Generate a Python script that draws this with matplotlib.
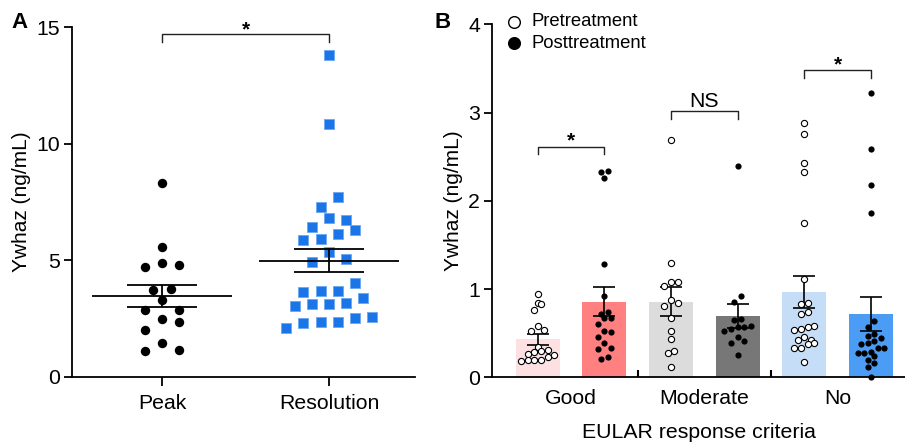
import matplotlib
matplotlib.use("Agg")
import matplotlib.pyplot as plt
import numpy as np
from matplotlib.lines import Line2D

plt.rcParams['font.family'] = ['Liberation Sans', 'DejaVu Sans']

# panel A values (ng/mL)
peak = [8.33, 5.58, 4.90, 4.79, 4.73, 3.76, 3.73, 3.30, 2.87, 2.87,
        2.50, 2.36, 2.01, 1.44, 1.16, 1.10]
resolution = [13.79, 10.84, 7.73, 7.30, 6.80, 6.73, 6.44, 6.30, 6.13, 5.93,
              5.87, 5.37, 5.04, 4.94, 4.04, 3.69, 3.69, 3.66, 3.40, 3.16,
              3.13, 3.12, 3.06, 2.58, 2.51, 2.36, 2.34, 2.33, 2.11]
a_labels = ['Peak', 'Resolution']
a_mean = [3.47, 4.99]
a_sem = [0.47, 0.50]

# panel B values (ng/mL)
good_pre = [0.95, 0.84, 0.83, 0.76, 0.585, 0.535, 0.53, 0.34, 0.31, 0.30,
            0.29, 0.27, 0.25, 0.23, 0.20, 0.20, 0.20, 0.19]
good_post = [2.34, 2.33, 2.255, 1.29, 0.92, 0.74, 0.724, 0.67, 0.67, 0.604,
             0.528, 0.517, 0.46, 0.385, 0.33, 0.317, 0.234, 0.204]
moderate_pre = [2.69, 1.30, 1.084, 1.084, 1.035, 0.876, 0.846, 0.808, 0.676,
                0.529, 0.434, 0.302, 0.272, 0.121]
moderate_post = [2.40, 0.921, 0.853, 0.657, 0.649, 0.58, 0.573, 0.567, 0.544,
                 0.528, 0.453, 0.415, 0.385, 0.249]
no_pre = [2.878, 2.757, 2.425, 2.323, 1.753, 1.11, 0.838, 0.83, 0.737, 0.714,
          0.581, 0.573, 0.544, 0.536, 0.46, 0.423, 0.423, 0.392, 0.377, 0.329,
          0.329, 0.177]
no_post = [3.218, 2.584, 2.176, 1.858, 0.641, 0.573, 0.49, 0.468, 0.442, 0.411,
           0.392, 0.374, 0.329, 0.329, 0.29, 0.279, 0.272, 0.241, 0.196, 0.159,
           0.113, 0.0]
b_groups = ['Good', 'Moderate', 'No']
b_mean = [0.43, 0.857, 0.857, 0.695, 0.967, 0.717]
b_sem = [0.058, 0.166, 0.166, 0.139, 0.179, 0.19]
b_colors = ['#fde0e2', '#ff8080', '#dcdcdc', '#777777', '#c6ddf7', '#4b9cf5']


def swarm(values, dx, h):
    # GraphPad-like rows: values within h of the row start share a row,
    # spread symmetrically across the column
    values = np.asarray(values, dtype=float)
    order = list(np.argsort(values))
    offs = np.zeros(len(values))
    while order:
        start = values[order[0]]
        row = [i for i in order if values[i] < start + h]
        order = order[len(row):]
        n = len(row)
        slots = []
        lo, hi = 0, n - 1
        while lo <= hi:
            slots.append(lo)
            if hi != lo:
                slots.append(hi)
            lo += 1
            hi -= 1
        # mix a little so rows do not look like a smile
        slots = slots[::2] + slots[1::2][::-1] if n > 3 else slots
        for i, k in zip(row, slots):
            offs[i] = (k - (n - 1) / 2) * dx
    return offs


def bracket(ax, x0, x1, y, drop, text, offset, fs):
    ax.plot([x0, x0, x1, x1], [y - drop, y, y, y - drop], color='#222222',
            lw=1.0, clip_on=False)
    ax.annotate(text, xy=((x0 + x1) / 2, y), xytext=(0, offset),
                textcoords='offset points', ha='center', va='baseline',
                fontsize=fs, fontweight='bold' if text == '*' else 'normal',
                annotation_clip=False)


fs = 15.3
fig = plt.figure(figsize=(9.05, 4.43), dpi=100)

# ---------------- panel A ----------------
axA = fig.add_axes([0.0796, 0.149, 0.379, 0.790])
xp = 0 + swarm(peak, 0.104, 0.5)
xr = 1 + swarm(resolution, 0.102, 0.5)
axA.scatter(xp, peak, s=46, color='black', zorder=3, linewidths=0)
axA.scatter(xr, resolution, s=44, marker='s', color='#1a76e8',
            edgecolors='#6aa8f0', linewidths=0.6, zorder=3)
for i, (m, se) in enumerate(zip(a_mean, a_sem)):
    axA.hlines(m, i - 0.42, i + 0.42, color='black', lw=1.3, zorder=4)
    axA.hlines([m - se, m + se], i - 0.21, i + 0.21, color='black', lw=1.3, zorder=4)
    axA.vlines(i, m - se, m + se, color='black', lw=1.3, zorder=4)

axA.set_xlim(-0.539, 1.515)
axA.set_ylim(0, 15)
axA.set_yticks([0, 5, 10, 15])
axA.set_xticks([0, 1])
axA.set_xticklabels(a_labels)
axA.set_ylabel('Ywhaz (ng/mL)', fontsize=15, labelpad=4)
for s in ['top', 'right']:
    axA.spines[s].set_visible(False)
for s in ['left', 'bottom']:
    axA.spines[s].set_linewidth(1.3)
axA.tick_params(axis='y', labelsize=fs, length=5.5, width=1.3, pad=3)
axA.tick_params(axis='x', labelsize=fs, length=6.5, width=1.3, pad=6)
bracket(axA, 0, 1, 14.7, 0.35, '*', -1, 15)
fig.text(0.013, 0.950, 'A', fontsize=16, fontweight='bold', va='center')

# ---------------- panel B ----------------
axB = fig.add_axes([0.5436, 0.148, 0.4564, 0.797])
xpos = np.arange(6)
axB.bar(xpos, b_mean, width=0.66, color=b_colors, zorder=1)
axB.errorbar(xpos, b_mean, yerr=b_sem, fmt='none', ecolor='black',
             elinewidth=1.2, capsize=8, capthick=1.2, zorder=2)

b_series = [good_pre, good_post, moderate_pre, moderate_post, no_pre, no_post]
for i, vals in enumerate(b_series):
    xs = i + swarm(vals, 0.099, 0.07)
    if i % 2 == 0:
        axB.scatter(xs, vals, s=20, facecolors='white', edgecolors='black',
                    linewidths=0.8, zorder=3, clip_on=False)
    else:
        axB.scatter(xs, vals, s=20, color='black', linewidths=0, zorder=3,
                    clip_on=False)

axB.set_xlim(-0.686, 5.51)
axB.set_ylim(0, 4)
axB.set_yticks([0, 1, 2, 3, 4])
axB.set_xticks([0.5, 2.5, 4.5])
axB.set_xticklabels(b_groups)
axB.set_xticks([1.5, 3.5], minor=True)
axB.set_xlabel('EULAR response criteria', fontsize=fs, labelpad=11)
axB.set_ylabel('Ywhaz (ng/mL)', fontsize=15, labelpad=4)
for s in ['top', 'right']:
    axB.spines[s].set_visible(False)
for s in ['left', 'bottom']:
    axB.spines[s].set_linewidth(1.3)
axB.tick_params(axis='y', labelsize=fs, length=5.5, width=1.3, pad=3)
axB.tick_params(axis='x', which='major', labelsize=fs, length=0, pad=8)
axB.tick_params(axis='x', which='minor', direction='in', length=5, width=1.5)
bracket(axB, 0, 1, 2.614, 0.085, '*', 0, 15)
bracket(axB, 2, 3, 3.018, 0.085, 'NS', 3, fs)
bracket(axB, 4, 5, 3.48, 0.085, '*', 0, 15)
fig.text(0.480, 0.950, 'B', fontsize=16, fontweight='bold', va='center')

# legend
fig.add_artist(Line2D([0.568], [0.951], transform=fig.transFigure, marker='o',
                      markersize=8.4, markerfacecolor='white',
                      markeredgecolor='black', markeredgewidth=1.0, ls='none'))
fig.add_artist(Line2D([0.568], [0.902], transform=fig.transFigure, marker='o',
                      markersize=8.4, color='black', ls='none'))
fig.text(0.587, 0.951, 'Pretreatment', fontsize=13.3, va='center')
fig.text(0.587, 0.902, 'Posttreatment', fontsize=13.3, va='center')

fig.savefig('out.png', dpi=100)
